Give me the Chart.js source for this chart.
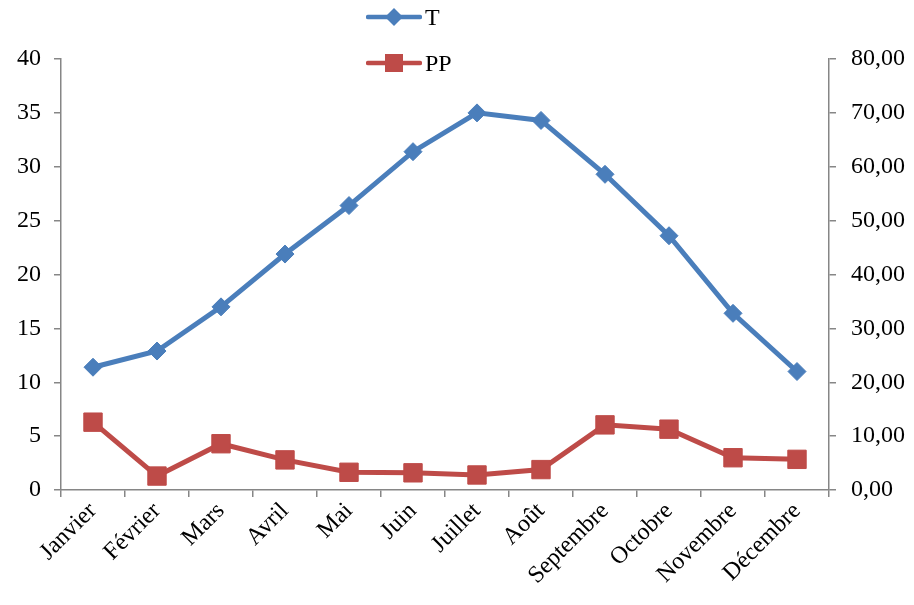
<!DOCTYPE html>
<html>
<head>
<meta charset="utf-8">
<script src="https://cdn.jsdelivr.net/npm/chart.js@4.4.1/dist/chart.umd.min.js"></script>
<style>
  body { margin: 0; background: #fff; }
  #wrap { position: relative; width: 914px; height: 605px; }
  #legend { position: absolute; left: 366px; top: 3px; font-family: "Liberation Serif", serif; font-size: 24px; color: #000; }
  #legend .row { display: flex; align-items: center; height: 28px; margin-bottom: 18px; }
  #legend svg { margin-right: 3px; }
</style>
</head>
<body>
<div id="wrap">
  <canvas id="chart" width="914" height="605"></canvas>
  <div id="legend"></div>
</div>
<script>
const months = ['Janvier', 'Février', 'Mars', 'Avril', 'Mai', 'Juin', 'Juillet', 'Août', 'Septembre', 'Octobre', 'Novembre', 'Décembre'];
const temperature = [11.4, 12.9, 17.0, 21.9, 26.4, 31.4, 35.0, 34.3, 29.3, 23.6, 16.4, 11.0];
const precipitation = [12.6, 2.6, 8.6, 5.6, 3.3, 3.2, 2.8, 3.8, 12.1, 11.3, 6.0, 5.7];
const leftTicks = [0, 5, 10, 15, 20, 25, 30, 35, 40];
const rightTicks = [0, 10, 20, 30, 40, 50, 60, 70, 80];

const blue = '#4A7EBB';
const red = '#BE4B48';
const axisGrey = '#868686';
const font = { family: 'Liberation Serif', size: 24 };

function axisGrid() {
    return {
        drawOnChartArea: false,
        drawTicks: true,
        tickLength: 7,
        color: axisGrey,
        lineWidth: 1.5
    };
}

const ctx = document.getElementById('chart').getContext('2d');
const chart = new Chart(ctx, {
    type: 'line',
    data: {
        labels: months,
        datasets: [{
            label: 'T',
            data: temperature,
            borderColor: blue,
            backgroundColor: blue,
            borderWidth: 5,
            pointStyle: 'rectRot',
            pointRadius: 9,
            pointBorderWidth: 1,
            yAxisID: 'y'
        }, {
            label: 'PP',
            data: precipitation,
            borderColor: red,
            backgroundColor: red,
            borderWidth: 5,
            pointStyle: 'rect',
            pointRadius: 13,
            pointBorderWidth: 1,
            yAxisID: 'y1'
        }]
    },
    options: {
        responsive: false,
        animation: false,
        layout: { padding: { left: 4, right: -6, top: 59, bottom: 15 } },
        plugins: {
            legend: { display: false },
            tooltip: { enabled: false }
        },
        scales: {
            x: {
                offset: true,
                grid: Object.assign(axisGrid(), { offset: true }),
                border: { color: axisGrey, width: 1.5 },
                ticks: {
                    color: '#000',
                    font: font,
                    minRotation: 45,
                    maxRotation: 45,
                    padding: 0
                }
            },
            y: {
                position: 'left',
                min: 0,
                max: 40,
                afterBuildTicks: axis => { axis.ticks = leftTicks.map(v => ({ value: v })); },
                grid: axisGrid(),
                border: { color: axisGrey, width: 1.5 },
                ticks: { color: '#000', font: font, padding: 13 }
            },
            y1: {
                position: 'right',
                min: 0,
                max: 80,
                afterBuildTicks: axis => { axis.ticks = rightTicks.map(v => ({ value: v })); },
                grid: axisGrid(),
                border: { color: axisGrey, width: 1.5 },
                ticks: {
                    color: '#000',
                    font: font,
                    padding: 15,
                    callback: v => v.toFixed(2).replace('.', ',')
                }
            }
        }
    }
});

// legend stacked vertically above the plot, built from the datasets
const legend = document.getElementById('legend');
chart.data.datasets.forEach(ds => {
    const row = document.createElement('div');
    row.className = 'row';
    const marker = ds.pointStyle === 'rect'
        ? '<rect x="19" y="5" width="18" height="18" fill="' + ds.borderColor + '"/>'
        : '<polygon points="28,5 37,14 28,23 19,14" fill="' + ds.borderColor + '"/>';
    row.innerHTML = '<svg width="56" height="28"><line x1="2" y1="14" x2="54" y2="14" stroke="' + ds.borderColor +
        '" stroke-width="4.5" stroke-linecap="round"/>' + marker + '</svg><span>' + ds.label + '</span>';
    legend.appendChild(row);
});
</script>
</body>
</html>
